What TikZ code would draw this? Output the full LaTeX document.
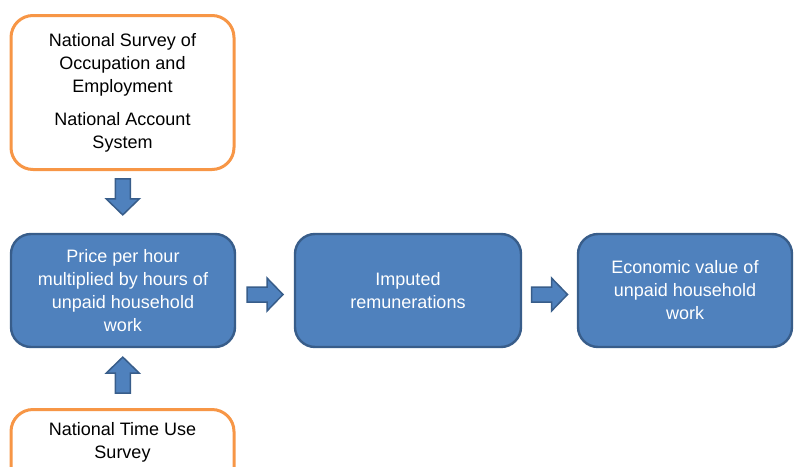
\documentclass[tikz,border=0pt]{standalone}
\usepackage{fontspec}
\setmainfont{Liberation Sans}
\usetikzlibrary{calc}
\definecolor{boxblue}{HTML}{4F81BD}
\definecolor{boxedge}{HTML}{385D8A}
\definecolor{srcorange}{HTML}{F79646}
\begin{document}
\begin{tikzpicture}[x=1pt,y=-1pt,
        every node/.style={font=\fontsize{18}{23}\selectfont,align=center},
        srcbox/.style={draw=srcorange,line width=3pt,fill=white,rounded corners=22pt,text=black,minimum width=223pt},
        stepbox/.style={draw=boxedge,line width=2.4pt,fill=boxblue,rounded corners=20pt,text=white,minimum height=113pt},
        blockarrow/.style={draw=boxedge,fill=boxblue,line width=1.5pt,line join=miter,to path={
            ($(\tikztostart)!.5!(\tikztotarget)+(#1:-18pt)+(#1+90:7.5pt)$) --
            ($(\tikztostart)!.5!(\tikztotarget)+(#1:2pt)+(#1+90:7.5pt)$) --
            ($(\tikztostart)!.5!(\tikztotarget)+(#1:2pt)+(#1+90:16.5pt)$) --
            ($(\tikztostart)!.5!(\tikztotarget)+(#1:18pt)$) --
            ($(\tikztostart)!.5!(\tikztotarget)+(#1:2pt)+(#1-90:16.5pt)$) --
            ($(\tikztostart)!.5!(\tikztotarget)+(#1:2pt)+(#1-90:7.5pt)$) --
            ($(\tikztostart)!.5!(\tikztotarget)+(#1:-18pt)+(#1-90:7.5pt)$) -- cycle}}]
    \useasboundingbox (0,0) rectangle (795,466);
    \clip (0,0) rectangle (795,466);
    \node[srcbox,minimum height=154pt] (survey) at (122.5,92.5) {National Survey of\\Occupation and\\Employment\\[10pt]National Account\\System};
    \node[stepbox,minimum width=224pt] (price) at (123,290.5) {Price per hour\\multiplied by hours of\\unpaid household\\work};
    \node[stepbox,minimum width=226pt] (imputed) at (408,290.5) {Imputed\\remunerations};
    \node[stepbox,minimum width=214pt] (econ) at (685,290.5) {Economic value of\\unpaid household\\work};
    \node[srcbox,anchor=north,inner ysep=13pt] (tus) at (122.5,408) {\parbox[t][100pt][t]{210pt}{\centering National Time Use\\Survey}};
    \draw[blockarrow=-90] (survey.south) to ([yshift=10pt]price.north);
    \draw[blockarrow=90] ([yshift=6pt]tus.north) to (price.south);
    \draw[blockarrow=0] ([yshift=-4pt]price.east) to ([yshift=-4pt]imputed.west);
    \draw[blockarrow=0] ([yshift=-4pt]imputed.east) to ([yshift=-4pt]econ.west);
\end{tikzpicture}
\end{document}
